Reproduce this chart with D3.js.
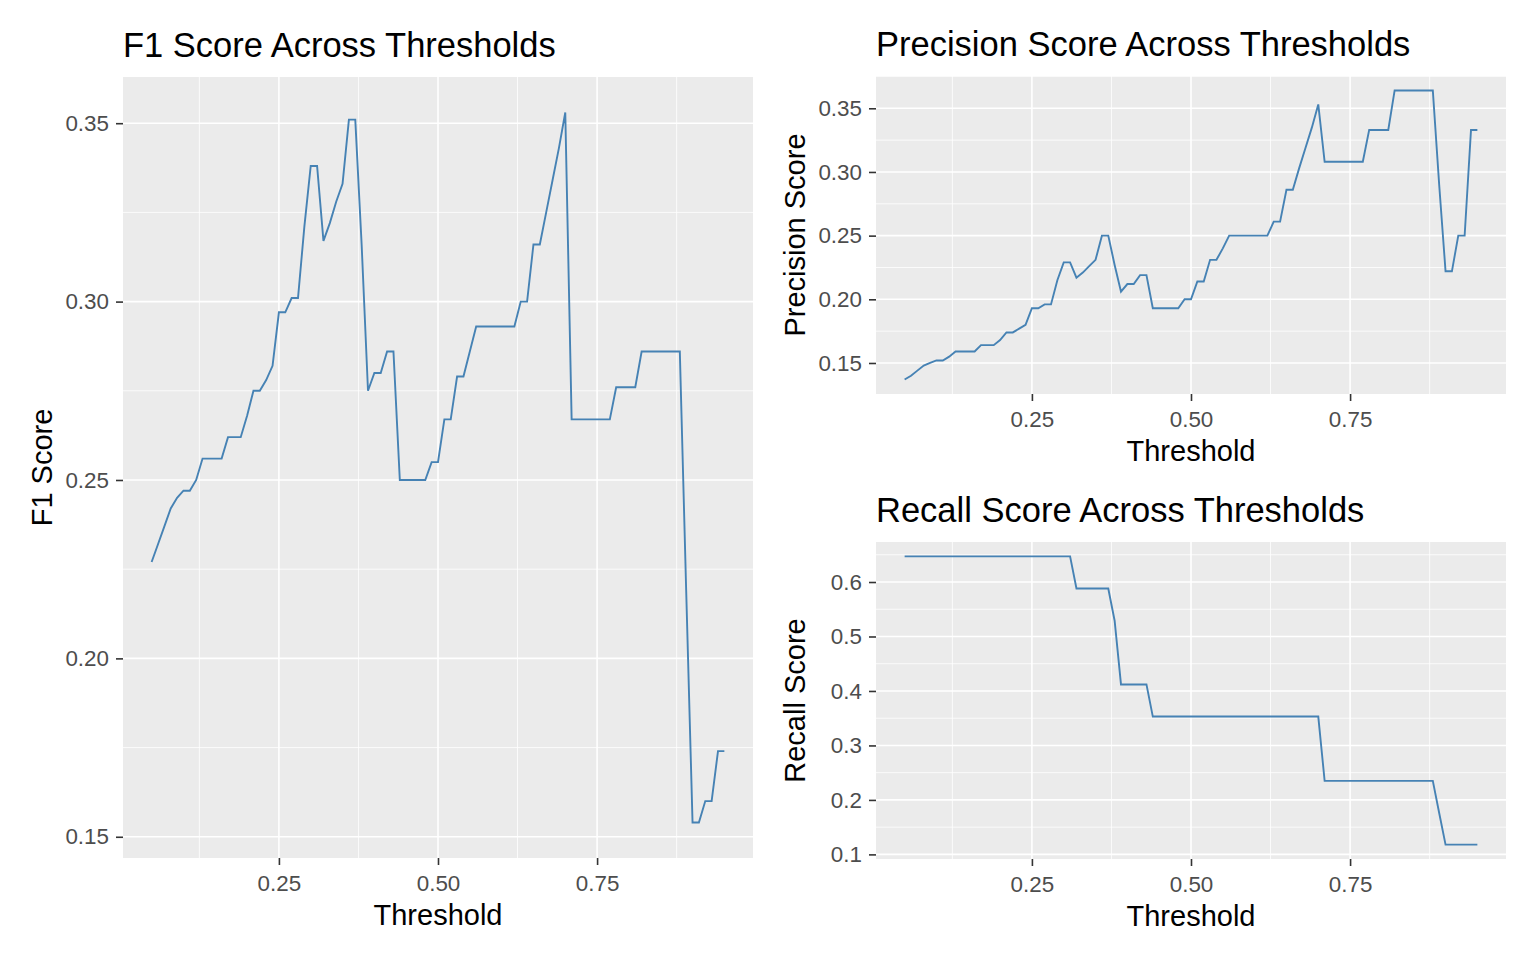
<!DOCTYPE html>
<html>
<head>
<meta charset="utf-8">
<script src="https://cdn.jsdelivr.net/npm/d3@7"></script>
<style>
  body { margin: 0; background: #fff; }
  svg text { font-family: "Liberation Sans", Arial, sans-serif; }
</style>
</head>
<body>
<div id="chart"></div>
<script>

// thresholds shared by the three panels

var thresholds = [
  0.05, 0.06, 0.07, 0.08, 0.09, 0.10, 0.11, 0.12, 0.13, 0.14,
  0.15, 0.16, 0.17, 0.18, 0.19, 0.20, 0.21, 0.22, 0.23, 0.24,
  0.25, 0.26, 0.27, 0.28, 0.29, 0.30, 0.31, 0.32, 0.33, 0.34,
  0.35, 0.36, 0.37, 0.38, 0.39, 0.40, 0.41, 0.42, 0.43, 0.44,
  0.45, 0.46, 0.47, 0.48, 0.49, 0.50, 0.51, 0.52, 0.53, 0.54,
  0.55, 0.56, 0.57, 0.58, 0.59, 0.60, 0.61, 0.62, 0.63, 0.64,
  0.65, 0.66, 0.67, 0.68, 0.69, 0.70, 0.71, 0.72, 0.73, 0.74,
  0.75, 0.76, 0.77, 0.78, 0.79, 0.80, 0.81, 0.82, 0.83, 0.84,
  0.85, 0.86, 0.87, 0.88, 0.89, 0.90, 0.91, 0.92, 0.93, 0.94,
  0.95
];

// scores, one per threshold

var f1Values = [
  0.227, 0.232, 0.237, 0.242, 0.245, 0.247, 0.247, 0.250, 0.256, 0.256,
  0.256, 0.256, 0.262, 0.262, 0.262, 0.268, 0.275, 0.275, 0.278, 0.282,
  0.297, 0.297, 0.301, 0.301, 0.321, 0.338, 0.338, 0.317, 0.322, 0.328,
  0.333, 0.351, 0.351, 0.316, 0.275, 0.280, 0.280, 0.286, 0.286, 0.250,
  0.250, 0.250, 0.250, 0.250, 0.255, 0.255, 0.267, 0.267, 0.279, 0.279,
  0.286, 0.293, 0.293, 0.293, 0.293, 0.293, 0.293, 0.293, 0.300, 0.300,
  0.316, 0.316, 0.325, 0.334, 0.343, 0.353, 0.267, 0.267, 0.267, 0.267,
  0.267, 0.267, 0.267, 0.276, 0.276, 0.276, 0.276, 0.286, 0.286, 0.286,
  0.286, 0.286, 0.286, 0.286, 0.219, 0.154, 0.154, 0.160, 0.160, 0.174,
  0.174
];

var precisionValues = [
  0.137, 0.140, 0.144, 0.148, 0.150, 0.152, 0.152, 0.155, 0.159, 0.159,
  0.159, 0.159, 0.164, 0.164, 0.164, 0.168, 0.174, 0.174, 0.177, 0.180,
  0.193, 0.193, 0.196, 0.196, 0.215, 0.229, 0.229, 0.217, 0.221, 0.226,
  0.231, 0.250, 0.250, 0.227, 0.206, 0.212, 0.212, 0.219, 0.219, 0.193,
  0.193, 0.193, 0.193, 0.193, 0.200, 0.200, 0.214, 0.214, 0.231, 0.231,
  0.240, 0.250, 0.250, 0.250, 0.250, 0.250, 0.250, 0.250, 0.261, 0.261,
  0.286, 0.286, 0.303, 0.319, 0.335, 0.353, 0.308, 0.308, 0.308, 0.308,
  0.308, 0.308, 0.308, 0.333, 0.333, 0.333, 0.333, 0.364, 0.364, 0.364,
  0.364, 0.364, 0.364, 0.364, 0.290, 0.222, 0.222, 0.250, 0.250, 0.333,
  0.333
];

var recallValues = [
  0.647, 0.647, 0.647, 0.647, 0.647, 0.647, 0.647, 0.647, 0.647, 0.647,
  0.647, 0.647, 0.647, 0.647, 0.647, 0.647, 0.647, 0.647, 0.647, 0.647,
  0.647, 0.647, 0.647, 0.647, 0.647, 0.647, 0.647, 0.588, 0.588, 0.588,
  0.588, 0.588, 0.588, 0.529, 0.412, 0.412, 0.412, 0.412, 0.412, 0.353,
  0.353, 0.353, 0.353, 0.353, 0.353, 0.353, 0.353, 0.353, 0.353, 0.353,
  0.353, 0.353, 0.353, 0.353, 0.353, 0.353, 0.353, 0.353, 0.353, 0.353,
  0.353, 0.353, 0.353, 0.353, 0.353, 0.353, 0.235, 0.235, 0.235, 0.235,
  0.235, 0.235, 0.235, 0.235, 0.235, 0.235, 0.235, 0.235, 0.235, 0.235,
  0.235, 0.235, 0.235, 0.235, 0.176, 0.118, 0.118, 0.118, 0.118, 0.118,
  0.118
];

// axis breaks

var thresholdTicks = [0.25, 0.50, 0.75];
var f1Ticks = [0.15, 0.20, 0.25, 0.30, 0.35];
var precisionTicks = [0.15, 0.20, 0.25, 0.30, 0.35];
var recallTicks = [0.1, 0.2, 0.3, 0.4, 0.5, 0.6];

// one ggplot-like panel with a line

function linePanel() {

  // default values that can be changed by the caller

  var left = 0,
      top = 0,
      width = 630,
      height = 300,
      title = "",
      xTitle = "Threshold",
      yTitle = "",
      xTicks = [],
      yTicks = [],
      yFormat = ".2f",
      xs = [],
      ys = [];

  // minor breaks sit half way between the major ones

  function minorBreaks(ticks, domain) {
    var step = ticks[1] - ticks[0],
        out = ticks.map(function(t) { return t - step / 2; });
    out.push(ticks[ticks.length - 1] + step / 2);
    return out.filter(function(t) { return t > domain[0] && t < domain[1]; });
  }

  function chart(svg) {

    // scales, with the usual 5% expansion around the data

    var xExt = d3.extent(xs),
        yExt = d3.extent(ys),
        xPad = (xExt[1] - xExt[0]) * 0.05,
        yPad = (yExt[1] - yExt[0]) * 0.05;

    var x = d3.scaleLinear()
      .domain([xExt[0] - xPad, xExt[1] + xPad])
      .range([0, width]);

    var y = d3.scaleLinear()
      .domain([yExt[0] - yPad, yExt[1] + yPad])
      .range([height, 0]);

    var g = svg.append("g")
      .attr("transform", "translate(" + left + "," + top + ")");

    // panel background

    g.append("rect")
      .attr("width", width)
      .attr("height", height)
      .attr("fill", "#EBEBEB");

    // minor grid

    g.selectAll(".xminor")
      .data(minorBreaks(xTicks, x.domain()))
      .enter()
        .append("line")
          .attr("x1", function(d) { return x(d); })
          .attr("x2", function(d) { return x(d); })
          .attr("y1", 0)
          .attr("y2", height)
          .attr("stroke", "#fff")
          .attr("stroke-width", 0.8);

    g.selectAll(".yminor")
      .data(minorBreaks(yTicks, y.domain()))
      .enter()
        .append("line")
          .attr("x1", 0)
          .attr("x2", width)
          .attr("y1", function(d) { return y(d); })
          .attr("y2", function(d) { return y(d); })
          .attr("stroke", "#fff")
          .attr("stroke-width", 0.8);

    // major grid

    g.selectAll(".xmajor")
      .data(xTicks)
      .enter()
        .append("line")
          .attr("x1", function(d) { return x(d); })
          .attr("x2", function(d) { return x(d); })
          .attr("y1", 0)
          .attr("y2", height)
          .attr("stroke", "#fff")
          .attr("stroke-width", 1.6);

    g.selectAll(".ymajor")
      .data(yTicks)
      .enter()
        .append("line")
          .attr("x1", 0)
          .attr("x2", width)
          .attr("y1", function(d) { return y(d); })
          .attr("y2", function(d) { return y(d); })
          .attr("stroke", "#fff")
          .attr("stroke-width", 1.6);

    // the score line

    var line = d3.line()
      .x(function(d, i) { return x(xs[i]); })
      .y(function(d) { return y(d); });

    g.append("path")
      .datum(ys)
      .attr("d", line)
      .attr("fill", "none")
      .attr("stroke", "steelblue")
      .attr("stroke-width", 1.9);

    // axes

    var xAxis = g.append("g")
      .attr("transform", "translate(0," + height + ")")
      .call(d3.axisBottom(x)
        .tickValues(xTicks)
        .tickFormat(d3.format(".2f"))
        .tickSize(7)
        .tickPadding(10));

    var yAxis = g.append("g")
      .call(d3.axisLeft(y)
        .tickValues(yTicks)
        .tickFormat(d3.format(yFormat))
        .tickSize(7)
        .tickPadding(7));

    [xAxis, yAxis].forEach(function(a) {
      a.select(".domain").remove();
      a.selectAll(".tick line")
        .attr("stroke", "#333")
        .attr("stroke-width", 1.6);
      a.selectAll(".tick text")
        .attr("fill", "#4D4D4D")
        .style("font-size", "22.4px");
    });

    // titles

    g.append("text")
      .attr("x", 0)
      .attr("y", -20)
      .style("font-size", "34.5px")
      .attr("fill", "#000")
      .text(title);

    g.append("text")
      .attr("x", width / 2)
      .attr("y", height + 67)
      .style("text-anchor", "middle")
      .style("font-size", "29px")
      .attr("fill", "#000")
      .text(xTitle);

    g.append("text")
      .attr("transform", "translate(-71," + (height / 2) + ") rotate(-90)")
      .style("text-anchor", "middle")
      .style("font-size", "29px")
      .attr("fill", "#000")
      .text(yTitle);
  }

  // these allow the default values to be changed

  chart.left = function(value) { left = value; return chart; };
  chart.top = function(value) { top = value; return chart; };
  chart.width = function(value) { width = value; return chart; };
  chart.height = function(value) { height = value; return chart; };
  chart.title = function(value) { title = value; return chart; };
  chart.yTitle = function(value) { yTitle = value; return chart; };
  chart.xTicks = function(value) { xTicks = value; return chart; };
  chart.yTicks = function(value) { yTicks = value; return chart; };
  chart.yFormat = function(value) { yFormat = value; return chart; };
  chart.xs = function(value) { xs = value; return chart; };
  chart.ys = function(value) { ys = value; return chart; };

  return chart;
}

// append svg

var svg = d3.select("#chart").append("svg")
  .attr("width", 1536)
  .attr("height", 960)
  .style("display", "block");

svg.append("rect")
  .attr("width", 1536)
  .attr("height", 960)
  .attr("fill", "#fff");

// F1 on the left, precision and recall stacked on the right

svg.call(linePanel()
  .left(123).top(77).width(630).height(781)
  .title("F1 Score Across Thresholds")
  .yTitle("F1 Score")
  .xTicks(thresholdTicks).yTicks(f1Ticks)
  .xs(thresholds).ys(f1Values));

svg.call(linePanel()
  .left(876).top(76).width(630).height(318)
  .title("Precision Score Across Thresholds")
  .yTitle("Precision Score")
  .xTicks(thresholdTicks).yTicks(precisionTicks)
  .xs(thresholds).ys(precisionValues));

svg.call(linePanel()
  .left(876).top(542).width(630).height(317)
  .title("Recall Score Across Thresholds")
  .yTitle("Recall Score")
  .xTicks(thresholdTicks).yTicks(recallTicks).yFormat(".1f")
  .xs(thresholds).ys(recallValues));

</script>
</body>
</html>
